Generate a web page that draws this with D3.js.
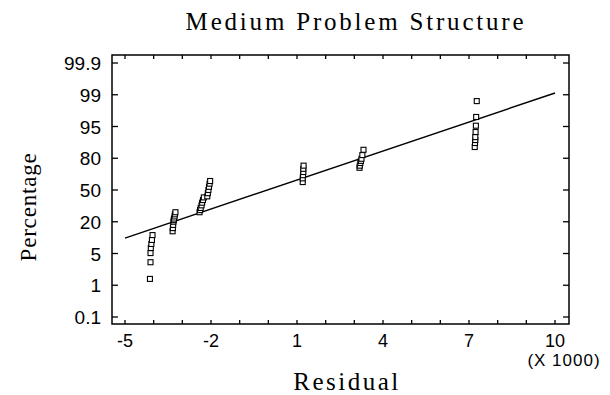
<!DOCTYPE html>
<html lang="en">
<head>
<meta charset="UTF-8">
<title>Medium Problem Structure</title>
<script src="https://d3js.org/d3.v7.min.js"></script>
<style>
  body { margin: 0; background: #fff; }
  svg { display: block; }
</style>
</head>
<body>
<script>

// tick labels
const pctTicks = [0.1, 1, 5, 20, 50, 80, 95, 99, 99.9];
const resTicks = [-5, -2, 1, 4, 7, 10];
const resMinor = d3.range(-5, 11);

// residuals (x 1000) and cumulative percentage
const residual = [
  -4.13, -4.11, -4.11, -4.10, -4.08, -4.06, -4.04,
  -3.34, -3.33, -3.32, -3.31, -3.30, -3.29, -3.27, -3.26, -3.24,
  -2.40, -2.38, -2.36, -2.33, -2.31, -2.28, -2.25,
  -2.13, -2.11, -2.09, -2.07, -2.05, -2.03,
  1.20, 1.20, 1.21, 1.22, 1.22, 1.23,
  3.18, 3.19, 3.21, 3.23, 3.25, 3.28, 3.32,
  7.20, 7.21, 7.22, 7.22, 7.23, 7.24, 7.25, 7.27
];
const percent = [
  1.8, 3.9, 5.2, 7.6, 9.5, 11.4, 13.7,
  15.5, 17, 18.5, 20, 21.5, 23, 25, 27, 29,
  29, 31, 33, 35.5, 38, 40.5, 43,
  44, 47, 50, 53, 56, 58.5,
  57.5, 61, 64, 67, 70, 73,
  71, 73, 75.5, 77.5, 79.5, 81.5, 84,
  85.3, 87.2, 88.6, 90, 92.4, 95.1, 96.2, 98.2
];

// fitted line end points
const fitX = [-5, 10];
const fitP = [12.3, 99.05];

const W = 610, H = 395;
const box = { left: 112, right: 569, top: 55, bottom: 324 };

const x = d3.scaleLinear().domain([-5, 10]).range([125, 555]);
// probability axis: labels evenly spaced
const y = d3.scaleLinear()
    .domain(pctTicks)
    .range(pctTicks.map((d, i) => 317 - i * 31.75));

const svg = d3.select('body').append('svg')
    .attr('width', W).attr('height', H);

// frame
svg.append('rect')
    .attr('x', box.left).attr('y', box.top)
    .attr('width', box.right - box.left).attr('height', box.bottom - box.top)
    .style('fill', 'none').style('stroke', '#000').style('stroke-width', 1.5);

// ticks on left / right
const yt = svg.append('g').style('stroke', '#000').style('stroke-width', 1.3);
pctTicks.forEach(p => {
    yt.append('line').attr('x1', box.left).attr('x2', box.left + 6)
        .attr('y1', y(p)).attr('y2', y(p));
    yt.append('line').attr('x1', box.right).attr('x2', box.right - 6)
        .attr('y1', y(p)).attr('y2', y(p));
});
// ticks on bottom / top
resMinor.forEach(v => {
    yt.append('line').attr('x1', x(v)).attr('x2', x(v))
        .attr('y1', box.bottom).attr('y2', box.bottom - 4);
    yt.append('line').attr('x1', x(v)).attr('x2', x(v))
        .attr('y1', box.top).attr('y2', box.top + 4);
});

// tick labels
svg.append('g').selectAll('text').data(pctTicks).join('text')
    .attr('x', 101).attr('y', d => y(d) + 7)
    .attr('text-anchor', 'end')
    .style('font-family', '"Liberation Sans", Arial, sans-serif')
    .style('font-size', '19px')
    .text(d => d);

svg.append('g').selectAll('text').data(resTicks).join('text')
    .attr('x', d => x(d)).attr('y', 347)
    .attr('text-anchor', 'middle')
    .style('font-family', '"Liberation Sans", Arial, sans-serif')
    .style('font-size', '18px')
    .text(d => d);

svg.append('text')
    .attr('x', 564).attr('y', 366)
    .attr('text-anchor', 'middle')
    .style('font-family', '"Liberation Sans", Arial, sans-serif')
    .style('font-size', '17px')
    .style('letter-spacing', '1px')
    .text('(X 1000)');

// fitted line
svg.append('line')
    .attr('x1', x(fitX[0])).attr('y1', y(fitP[0]))
    .attr('x2', x(fitX[1])).attr('y2', y(fitP[1]))
    .style('stroke', '#000').style('stroke-width', 1.4);

// points
const s = 5;
svg.append('g').selectAll('rect').data(residual).join('rect')
    .attr('x', (d, i) => x(d) - s / 2)
    .attr('y', (d, i) => y(percent[i]) - s / 2)
    .attr('width', s).attr('height', s)
    .style('fill', '#fff').style('stroke', '#000').style('stroke-width', 1.1);

// titles
svg.append('text')
    .attr('x', 356).attr('y', 30)
    .attr('text-anchor', 'middle')
    .style('font-family', '"Liberation Serif", "Times New Roman", serif')
    .style('font-size', '25px')
    .style('letter-spacing', '2.8px')
    .text('Medium Problem Structure');

svg.append('text')
    .attr('x', 347).attr('y', 390)
    .attr('text-anchor', 'middle')
    .style('font-family', '"Liberation Serif", "Times New Roman", serif')
    .style('font-size', '25px')
    .style('letter-spacing', '2.5px')
    .text('Residual');

svg.append('text')
    .attr('transform', 'translate(36,207) rotate(-90)')
    .attr('text-anchor', 'middle')
    .style('font-family', '"Liberation Serif", "Times New Roman", serif')
    .style('font-size', '23px')
    .style('letter-spacing', '0.8px')
    .text('Percentage');

</script>
</body>
</html>
